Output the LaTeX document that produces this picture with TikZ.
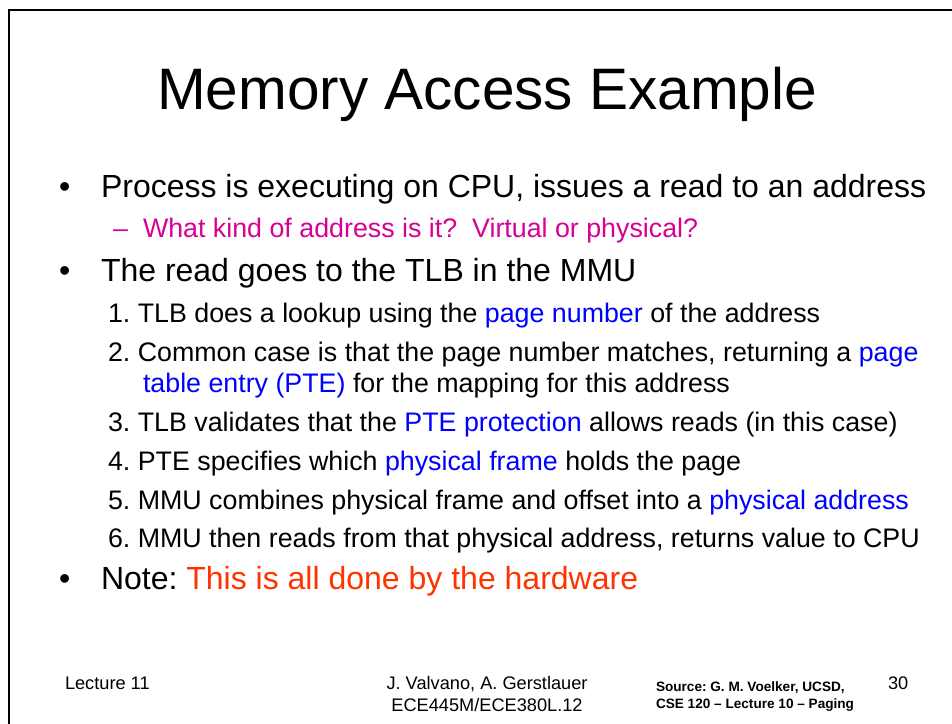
\documentclass[tikz,border=0pt]{standalone}
\usepackage{fontspec}
\setmainfont{Liberation Sans}
\frenchspacing
\definecolor{pinkq}{RGB}{214,0,147}
\definecolor{bluet}{RGB}{0,0,255}
\definecolor{redn}{RGB}{255,51,0}
\tikzset{
  txt/.style={anchor=base west, inner sep=0pt, outer sep=0pt},
  ctxt/.style={anchor=base, inner sep=0pt, outer sep=0pt},
  big/.style={font=\fontsize{32}{36}\selectfont},
  mid/.style={font=\fontsize{26.8}{31}\selectfont},
  foot/.style={font=\fontsize{18.2}{21}\selectfont},
  src/.style={font=\fontsize{13.6}{16}\selectfont\bfseries},
}
\begin{document}
\begin{tikzpicture}[x=1pt,y=-1pt]
\useasboundingbox (0,0) rectangle (952,723);
\coordinate (bl) at (8.5,724);
\coordinate (tl) at (8.5,9.5);
\coordinate (tr) at (953,9.5);
\draw[line width=2pt] (bl) -- (tl) -- (tr);
\node[ctxt, font=\fontsize{58.5}{66}\selectfont] (title) at (487,109) {Memory Access Example};
% bullet 1
\node[txt,big] (b1) at (59,197) {•};
\node[txt,big] (t1) at (101,197) {Process is executing on CPU, issues a read to an address};
\node[txt,mid,text=pinkq] (d1) at (113,237) {–};
\node[txt,mid,text=pinkq] (s1) at (143,237) {What kind of address is it?\ \ Virtual or physical?};
% bullet 2
\node[txt,big] (b2) at (59,281) {•};
\node[txt,big] (t2) at (101,281) {The read goes to the TLB in the MMU};
\node[txt,mid] (i1) at (108,322) {1. TLB does a lookup using the \textcolor{bluet}{page number} of the address};
\node[txt,mid] (i2) at (108,361) {2. Common case is that the page number matches, returning a \textcolor{bluet}{page}};
\node[txt,mid] (i2b) at (143,392) {\textcolor{bluet}{table entry (PTE)} for the mapping for this address};
\node[txt,mid] (i3) at (108,431) {3. TLB validates that the \textcolor{bluet}{PTE protection} allows reads (in this case)};
\node[txt,mid] (i4) at (108,470) {4. PTE specifies which \textcolor{bluet}{physical frame} holds the page};
\node[txt,mid] (i5) at (108,509) {5. MMU combines physical frame and offset into a \textcolor{bluet}{physical address}};
\node[txt,mid] (i6) at (108,547) {6. MMU then reads from that physical address, returns value to CPU};
% bullet 3
\node[txt,big] (b3) at (59,589) {•};
\node[txt,big] (t3) at (101,589) {Note: \textcolor{redn}{This is all done by the hardware}};
% footer
\node[txt,foot] (lec) at (65,689) {Lecture 11};
\node[ctxt,foot] (auth) at (487,689) {J. Valvano, A. Gerstlauer};
\node[ctxt,foot] (course) at (487,711) {ECE445M/ECE380L.12};
\node[txt,src] (srcA) at (656,691) {Source: G. M. Voelker, UCSD,};
\node[txt,src] (srcB) at (656,708) {CSE 120 – Lecture 10 – Paging};
\node[txt,foot] (pg) at (888,689) {30};
\end{tikzpicture}
\end{document}
